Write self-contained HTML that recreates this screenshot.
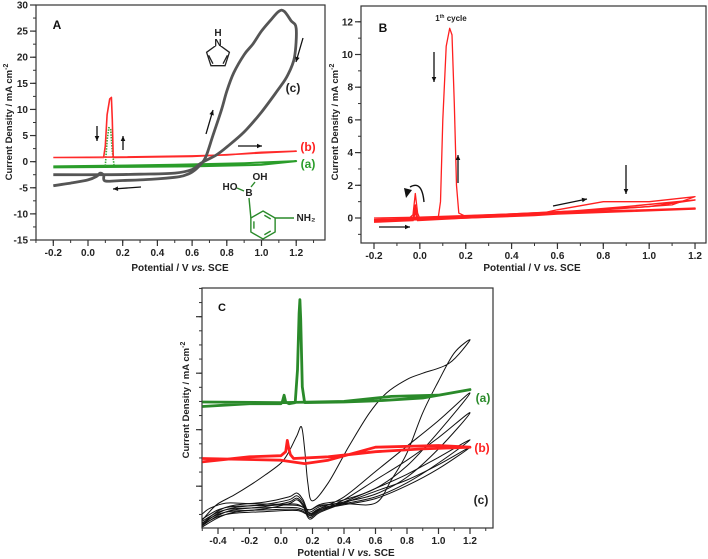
<!DOCTYPE html>
<html><head><meta charset="utf-8"><style>
html,body{margin:0;padding:0;background:#fff;width:708px;height:559px;overflow:hidden}
svg{display:block;font-family:"Liberation Sans",Arial,sans-serif}
.tk{font-size:10px;font-weight:bold;fill:#222}
</style></head><body>
<svg id="fig" width="708" height="559" viewBox="0 0 708 559"></svg>
<script>
// ---------- Panel A data ----------
const aTicksX=[-0.2,0,0.2,0.4,0.6,0.8,1.0,1.2];
const aTicksY=[-15,-10,-5,0,5,10,15,20,25,30];
const aC_pot=[-0.2,-0.1,0,0.05,0.07,0.09,0.1,0.2,0.3,0.4,0.5,0.55,0.6,0.65,0.68,0.72,0.77,0.8,0.84,0.9,0.95,1.0,1.05,1.1,1.13,1.17,1.2,1.19,1.15,1.1,1.0,0.9,0.8,0.74,0.65,0.6,0.5,0.3,0.1,-0.2];
const aC_cur=[-4.6,-4.1,-3.5,-2.8,-2.2,-2.6,-3.7,-3.6,-3.5,-3.3,-3.0,-2.7,-2.0,-0.5,1,5,10,13.5,17,20.5,22.5,25,27,28.8,28.8,27,25.5,20,16.5,14,9.5,5.7,2.8,1.3,-0.3,-1.5,-2.2,-2.4,-2.5,-2.5];
const aA_pot=[-0.2,0.1,0.5,0.9,1.2,1.0,0.6,0.2,-0.2];
const aA_cur=[-0.9,-0.8,-0.6,-0.3,0.1,-0.6,-0.9,-1.0,-1.1];
const aApk_pot=[0.1,0.11,0.12,0.13,0.14,0.15];
const aApk_cur=[-0.8,4,6.5,6.3,2,-0.6];
const aB_pot=[-0.2,0.09,0.1,0.11,0.125,0.135,0.14,0.145,0.15,0.6,0.9,1.2,1.0,0.8,0.6,0.2,-0.2];
const aB_cur=[0.8,0.8,3,9,12,12.3,8,1,0.8,1.0,1.5,2.0,1.8,1.3,1.1,0.9,0.8];
// ---------- Panel B data ----------
const bTicksX=[-0.2,0,0.2,0.4,0.6,0.8,1.0,1.2];
const bTicksY=[0,2,4,6,8,10,12];
const bPot1=[-0.2,-0.05,-0.03,-0.02,-0.01,0,0.08,0.09,0.1,0.115,0.13,0.14,0.15,0.16,0.17,0.2,0.5,0.6,0.8,1.0,1.2,1.1,0.8,0.4,0,-0.2];
const bCur1=[-0.1,-0.05,0.2,1.5,0.3,-0.05,0,1,6,10.5,11.6,11.2,7,2,0.3,0.1,0.2,0.5,1.0,1.0,1.3,0.8,0.5,0.25,0.05,0.0];
const bPotN=[-0.2,-0.03,-0.02,-0.01,0.2,0.5,0.6,0.9,1.2,1.0,0.7,0.4,0,-0.2];
const bCur2=[-0.15,-0.05,0.8,-0.05,0.05,0.2,0.35,0.7,1.1,0.7,0.45,0.25,0.0,-0.1];
const bCur3=[-0.2,-0.1,0.6,-0.1,0.0,0.2,0.3,0.45,0.6,0.5,0.4,0.2,-0.05,-0.15];
const bCur4=[-0.25,-0.15,0.4,-0.15,0.0,0.15,0.25,0.4,0.55,0.45,0.35,0.18,-0.1,-0.2];
// ---------- Panel C data ----------
const cTicksX=[-0.4,-0.2,0,0.2,0.4,0.6,0.8,1.0,1.2];
const cTicksY=[7.4,17.4,27.4,37.4];
const c1_pot=[-0.5,-0.45,-0.4,-0.3,-0.2,-0.1,0,0.05,0.1,0.13,0.15,0.17,0.2,0.3,0.43,0.56,0.67,0.8,0.9,1.07,1.2,1.1,1.0,0.9,0.8,0.7,0.6,0.4,0.25,0.18,0.1,0,-0.2,-0.35,-0.45,-0.5];
const c1_cur=[1.4,3,4.3,5.8,7.5,9.4,11.5,13.5,16.3,17.9,14,8,4.8,8,14.4,20.3,23.9,26.3,27.4,29.2,33.3,31,26,20.4,13.3,8.5,4.4,4.3,4.0,3.2,4.2,4.2,4.3,4.4,3.5,2.5];
const cL_pot=[-0.5,-0.4,-0.3,-0.1,0.05,0.1,0.14,0.18,0.25,0.4,0.6,0.8,1.0,1.2,1.0,0.8,0.6,0.4,0.25,0.18,0.1,-0.1,-0.3,-0.4,-0.5];
const c2_cur=[0.8,3.0,4.0,4.6,5.5,6.2,5.0,2.6,3.5,5.5,10,14.5,19,23.9,17,11,7,5.0,4.2,3.2,4.0,4.0,3.8,3.2,1.6];
const c3_cur=[0.6,2.6,3.6,4.2,5.0,5.7,4.6,2.2,3.2,5.0,8.5,12,16,20.4,14,9,6,4.6,3.8,2.8,3.6,3.6,3.4,2.8,1.2];
const c4_cur=[0.4,2.2,3.2,3.8,4.6,5.3,4.2,1.9,3.0,4.6,7,9.5,12.5,15.6,11.5,8,5.5,4.3,3.5,2.5,3.3,3.2,3.0,2.4,0.9];
const c5_cur=[0.2,1.8,2.8,3.4,4.3,5.0,3.9,1.6,2.8,4.4,6.5,8.5,11.2,14.3,10.5,7.5,5.2,4.1,3.3,2.3,3.1,2.9,2.6,2.0,0.6];
const cG_pot=[-0.5,-0.2,0,0.01,0.02,0.03,0.05,0.09,0.105,0.115,0.12,0.125,0.135,0.15,0.4,0.6,0.9,1.2,1.0,0.7,0.4,0,-0.5];
const cG_cur=[21.5,22,22,22.5,23.5,22.3,22,22.2,28,38,40.4,37,25,22.2,22.3,22.5,23,24.5,23.5,23.3,22.4,22.2,22.3];
const cR_pot=[-0.5,-0.2,0,0.03,0.04,0.05,0.06,0.08,0.3,0.6,0.9,1.2,1.0,0.6,0.3,0.15,0,-0.5];
const cR_cur=[11.7,12.6,12.8,13.5,15.5,14,13,12.3,12.6,13.5,14,14.3,14.6,14.3,12,11.4,12,12.3];

const NS='http://www.w3.org/2000/svg';
const svg=document.getElementById('fig');
function mk(tag,attrs,parent){const e=document.createElementNS(NS,tag);for(const k in attrs)e.setAttribute(k,attrs[k]);(parent||svg).appendChild(e);return e;}
function txt(x,y,s,cls,anchor,parent){const t=mk('text',{x:x,y:y,'class':cls,'text-anchor':anchor||'middle'},parent);t.textContent=s;return t;}

const A={X:v=>53.3+(v+0.2)*173.5,Y:i=>5+(30-i)*5.222,l:36,r:325,t:5,b:240};
const B={X:v=>374+(v+0.2)*229.3,Y:i=>218-i*16.35,l:361,r:706,t:6,b:243};
const C={X:v=>218+(v+0.4)*157.5,Y:i=>528-i*5.65,l:202,r:493,t:288,b:528};

function frame(P,name){
  const r=mk('rect',{x:P.l,y:P.t,width:P.r-P.l,height:P.b-P.t,fill:'none',stroke:'#333','stroke-width':1.2});
  
  
}
function xAxis(P,ticks,minorStep,name){
  const g=mk('g',{});
  
  
  const step=ticks[1]-ticks[0];
  for(let v=ticks[0]-step;v<=ticks[ticks.length-1]+step+1e-9;v+=minorStep){
    const x=P.X(v);if(x<P.l-0.5||x>P.r+0.5)continue;
    mk('line',{x1:x,x2:x,y1:P.b,y2:P.b+3,stroke:'#333','stroke-width':1},g);
  }
  ticks.forEach(v=>{const x=P.X(v);mk('line',{x1:x,x2:x,y1:P.b,y2:P.b+6,stroke:'#333','stroke-width':1.2},g);
    txt(x,P.b+16,v.toFixed(1),'tk','middle',g);});
}
function yAxis(P,ticks,minorStep,labels,name){
  const g=mk('g',{});
  
  
  const step=ticks[1]-ticks[0];
  for(let v=ticks[0]-3*step;v<=ticks[ticks.length-1]+3*step;v+=minorStep){
    const y=P.Y(v);if(y<P.t-0.5||y>P.b+0.5)continue;
    mk('line',{x1:P.l-3,x2:P.l,y1:y,y2:y,stroke:'#333','stroke-width':1},g);
  }
  ticks.forEach(v=>{const y=P.Y(v);mk('line',{x1:P.l-6,x2:P.l,y1:y,y2:y,stroke:'#333','stroke-width':1.2},g);
    if(labels)txt(P.l-8,y+3.5,String(v),'tk','end',g);});
}
function curve(P,xs,ys,color,w,name,dash,smooth){
  const pts=xs.map((v,k)=>[P.X(v),P.Y(ys[k])]);
  let d='M'+pts[0][0].toFixed(1)+','+pts[0][1].toFixed(1);
  for(let k=0;k<pts.length-1;k++){
    if(!smooth){d+=' L'+pts[k+1][0].toFixed(1)+','+pts[k+1][1].toFixed(1);continue;}
    const p0=pts[Math.max(0,k-1)],p1=pts[k],p2=pts[k+1],p3=pts[Math.min(pts.length-1,k+2)],t=6;
    const c1=[p1[0]+(p2[0]-p0[0])/t,p1[1]+(p2[1]-p0[1])/t],c2=[p2[0]-(p3[0]-p1[0])/t,p2[1]-(p3[1]-p1[1])/t];
    d+=' C'+c1.map(n=>n.toFixed(1)).join(',')+' '+c2.map(n=>n.toFixed(1)).join(',')+' '+p2.map(n=>n.toFixed(1)).join(',');
  }
  const p=mk('path',{d:d,fill:'none',stroke:color,'stroke-width':w,'stroke-linejoin':'round'});
  if(dash)p.setAttribute('stroke-dasharray',dash);
  
  
  return p;
}
function arrow(x1,y1,x2,y2,name){
  const g=mk('g',{});
  
  
  mk('line',{x1:x1,y1:y1,x2:x2,y2:y2,stroke:'#111','stroke-width':1.3},g);
  const a=Math.atan2(y2-y1,x2-x1),L=5,W=2.3;
  const bx=x2-L*Math.cos(a),by=y2-L*Math.sin(a);
  mk('polygon',{points:`${x2},${y2} ${bx-W*Math.sin(a)},${by+W*Math.cos(a)} ${bx+W*Math.sin(a)},${by-W*Math.cos(a)}`,fill:'#111'},g);
}
function label(x,y,s,color,size,name,anchor){
  const t=mk('text',{x:x,y:y,fill:color,'font-size':size,'font-weight':'bold','text-anchor':anchor||'middle'});
  t.textContent=s;
  
  
  return t;
}

// ---------- Panel A ----------
frame(A,'panel-a');
xAxis(A,aTicksX,0.1,'panel-a');
yAxis(A,aTicksY,2.5,true,'panel-a');
curve(A,aA_pot,aA_cur,'#2a9d2a',2,'panel-a-curve-a');
curve(A,aApk_pot,aApk_cur,'#3aa83a',1.6,'panel-a-curve-a-peak','1.5,1.2');
curve(A,aB_pot,aB_cur,'#ff2a2a',1.6,'panel-a-curve-b');
curve(A,aC_pot,aC_cur,'#555',2.8,'panel-a-curve-c',null,true);
label(57,29,'A','#111',12,'panel-a-label');
label(308,151,'(b)','#ff2020',12,'panel-a-legend-b');
label(308,168,'(a)','#2a9d2a',12,'panel-a-legend-a');
label(293,92,'(c)','#222',12,'panel-a-legend-c');
arrow(97,126,97,141,'panel-a-arrow-down');
arrow(123,150,123,136,'panel-a-arrow-up');
arrow(206,134,213,110,'panel-a-arrow-anodic');
arrow(238,146,262,146,'panel-a-arrow-right');
arrow(141,187,113,189,'panel-a-arrow-left');
arrow(303,38,296,62,'panel-a-arrow-reverse');
(function(){const g=mk('g',{fill:'none',stroke:'#222','stroke-width':1.3});
 
 
 const cx=218,cy=56,r=12,p=[];for(let k=0;k<5;k++){const a=-Math.PI/2+k*2*Math.PI/5;p.push([cx+r*Math.cos(a),cy+r*Math.sin(a)]);}
 mk('polygon',{points:p.map(q=>q.join(',')).join(' ')},g);
 mk('line',{x1:p[1][0]-2,y1:p[1][1]+3,x2:p[2][0]-2,y2:p[2][1]-2},g);
 mk('line',{x1:p[3][0]+2,y1:p[3][1]-2,x2:p[4][0]+2,y2:p[4][1]+3},g);
 mk('rect',{x:213,y:37,width:10,height:9,fill:'#fff',stroke:'none'},g);
 const t1=txt(218,36,'H','tk','middle',g);t1.setAttribute('stroke','none');
 const t2=txt(218,46,'N','tk','middle',g);t2.setAttribute('stroke','none');})();
(function(){const g=mk('g',{fill:'none',stroke:'#2a8a2a','stroke-width':1.4});
 
 
 const cx=263,cy=225,r=14,p=[];for(let k=0;k<6;k++){const a=-Math.PI/2+k*Math.PI/3;p.push([cx+r*Math.cos(a),cy+r*Math.sin(a)]);}
 mk('polygon',{points:p.map(q=>q.join(',')).join(' ')},g);
 mk('line',{x1:p[5][0],y1:p[5][1],x2:249,y2:198},g);
 mk('line',{x1:p[1][0],y1:p[1][1],x2:294,y2:p[1][1]},g);
 mk('line',{x1:237,y1:188,x2:244,y2:191},g);
 mk('line',{x1:251,y1:187,x2:255,y2:182},g);
 const q=[];for(let k=0;k<6;k++){const a=-Math.PI/2+k*Math.PI/3;q.push([cx+(r-3.5)*Math.cos(a),cy+(r-3.5)*Math.sin(a)]);}
 [[0,1],[2,3],[4,5]].forEach(e=>{const a=q[e[0]],b=q[e[1]];mk('line',{x1:a[0]+(b[0]-a[0])*0.15,y1:a[1]+(b[1]-a[1])*0.15,x2:a[0]+(b[0]-a[0])*0.85,y2:a[1]+(b[1]-a[1])*0.85},g);});
 [['B',249,196],['HO',230,190],['OH',260,180],['NH\u2082',306,221]].forEach(s=>{const t=txt(s[1],s[2],s[0],'tk','middle',g);t.setAttribute('stroke','none');t.setAttribute('fill','#2a8a2a');t.setAttribute('font-size','9');});})();
(function(){const t=label(180,271,'','#222',10,'panel-a-x-title');t.innerHTML='Potential / V <tspan font-style="italic">vs.</tspan> SCE';})();
(function(){const t=label(0,0,'','#222',9.5,'panel-a-y-title');t.setAttribute('transform','translate(12,122) rotate(-90)');t.innerHTML='Current Density / mA cm<tspan dy="-4" font-size="7">-2</tspan>';})();

// ---------- Panel B ----------
frame(B,'panel-b');
xAxis(B,bTicksX,0.1,'panel-b');
yAxis(B,bTicksY,1,true,'panel-b');
curve(B,bPotN,bCur4,'#ff2020',1.6,'panel-b-cycle-4');
curve(B,bPotN,bCur3,'#ff2020',1.6,'panel-b-cycle-3');
curve(B,bPotN,bCur2,'#ff2020',1.4,'panel-b-cycle-2');
curve(B,bPot1,bCur1,'#ff2020',1.3,'panel-b-cycle-1');
label(383,32,'B','#111',12,'panel-b-label');
(function(){const t=label(451,21,'','#222',8,'panel-b-first-cycle-label');t.innerHTML='1<tspan dy="-3" font-size="5">th</tspan><tspan dy="3"> cycle</tspan>';})();
arrow(434,52,434,82,'panel-b-arrow-down');
arrow(458,183,458,155,'panel-b-arrow-up');
arrow(379,227,410,227,'panel-b-arrow-right');
arrow(553,206,587,199,'panel-b-arrow-forward');
arrow(626,165,626,194,'panel-b-arrow-hump');
(function(){const g=mk('g',{});
 mk('path',{d:'M424,202 Q422,180 410,187',fill:'none',stroke:'#111','stroke-width':1.4},g);
 mk('polygon',{points:'406,198 404,188 412,190',fill:'#111'},g);})();
(function(){const t=label(532,271,'','#222',10,'panel-b-x-title');t.innerHTML='Potential / V <tspan font-style="italic">vs.</tspan> SCE';})();
(function(){const t=label(0,0,'','#222',9.5,'panel-b-y-title');t.setAttribute('transform','translate(338,122) rotate(-90)');t.innerHTML='Current Density / mA cm<tspan dy="-4" font-size="7">-2</tspan>';})();

// ---------- Panel C ----------
frame(C,'panel-c');
xAxis(C,cTicksX,0.1,'panel-c');
yAxis(C,cTicksY,2.5,false,'panel-c');
curve(C,cL_pot,c5_cur,'#111',1,'panel-c-curve-c-cycle-5',null,true);
curve(C,cL_pot,c4_cur,'#111',1,'panel-c-curve-c-cycle-4',null,true);
curve(C,cL_pot,c3_cur,'#111',1,'panel-c-curve-c-cycle-3',null,true);
curve(C,cL_pot,c2_cur,'#111',1,'panel-c-curve-c-cycle-2',null,true);
curve(C,c1_pot,c1_cur,'#111',1,'panel-c-curve-c-cycle-1',null,true);
curve(C,cG_pot,cG_cur,'#2a8a2a',2.8,'panel-c-curve-a');
curve(C,cR_pot,cR_cur,'#ff2020',2.8,'panel-c-curve-b');
label(222,311,'C','#111',11,'panel-c-label');
label(483,402,'(a)','#2a8a2a',12,'panel-c-legend-a');
label(482,452,'(b)','#ff2020',12,'panel-c-legend-b');
label(481,504,'(c)','#222',12,'panel-c-legend-c');
(function(){const t=label(346,556,'','#222',10,'panel-c-x-title');t.innerHTML='Potential / V <tspan font-style="italic">vs.</tspan> SCE';})();
(function(){const t=label(0,0,'','#222',9.5,'panel-c-y-title');t.setAttribute('transform','translate(189,400) rotate(-90)');t.innerHTML='Current Density / mA cm<tspan dy="-4" font-size="7">-2</tspan>';})();
</script>
</body></html>
